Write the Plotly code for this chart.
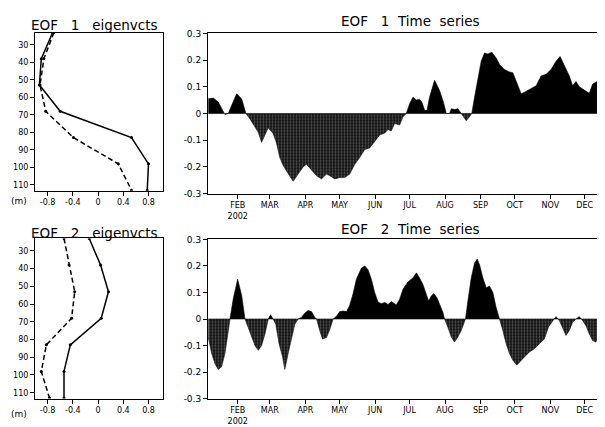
import numpy as np
import plotly.graph_objects as go

# ---------------- data ----------------
depth = [23, 38, 53, 68, 83, 98, 113]
eof1_solid = [-0.72, -0.90, -0.93, -0.60, 0.53, 0.80, 0.78]
eof1_dash = [-0.70, -0.86, -0.92, -0.83, -0.39, 0.32, 0.53]
eof2_solid = [-0.14, 0.04, 0.165, 0.05, -0.44, -0.54, -0.54]
eof2_dash = [-0.54, -0.46, -0.37, -0.42, -0.82, -0.90, -0.77]

ts1_day = [20.3, 24.6, 29.0, 31.9, 34.8, 37.7, 40.6, 45.0, 49.4, 53.1, 56.6, 61.0, 63.9, 66.8,
           69.7, 72.6, 76.9, 79.8, 82.7, 85.7, 90.0, 94.4, 98.7, 103.1, 106.0, 110.4, 114.8,
           119.1, 123.5, 126.4, 130.7, 135.1, 139.4, 143.8, 148.2, 152.5, 156.9, 161.2, 165.6,
           170.0, 174.4, 177.2, 180.1, 183.0, 187.4, 190.3, 193.2, 196.1, 199.0, 202.0, 204.8,
           206.8, 209.2, 211.3, 213.5, 217.9, 222.3, 226.0, 228.1, 231.0, 232.5, 235.3, 238.2,
           241.2, 244.1, 245.5, 248.4, 250.4, 252.8, 255.7, 258.6, 261.5, 264.4, 267.9, 271.7,
           274.6, 278.9, 283.3, 286.2, 289.1, 293.5, 296.4, 299.3, 302.2, 306.6, 310.9, 315.3,
           319.6, 324.0, 327.5, 331.2, 335.6, 338.5, 341.4, 344.3, 348.7, 353.0, 355.9, 360.3,
           364.6]
ts1_val = [0.055, 0.058, 0.043, 0.018, -0.004, 0.0, 0.03, 0.074, 0.055, 0.0, -0.02, -0.05, -0.07,
           -0.108, -0.08, -0.053, -0.075, -0.11, -0.165, -0.195, -0.225, -0.254, -0.227, -0.2,
           -0.19, -0.21, -0.233, -0.245, -0.227, -0.233, -0.245, -0.24, -0.24, -0.227, -0.19,
           -0.165, -0.135, -0.129, -0.104, -0.08, -0.073, -0.06, -0.065, -0.037, -0.043, -0.012,
           0.0, 0.037, 0.061, 0.051, 0.053, 0.043, 0.012, 0.012, 0.061, 0.125, 0.086, 0.037, 0.0,
           0.0, 0.018, 0.015, 0.018, 0.0, -0.018, -0.027, -0.012, 0.0, 0.061, 0.135, 0.196, 0.227,
           0.223, 0.23, 0.208, 0.184, 0.165, 0.156, 0.153, 0.122, 0.074, 0.08, 0.086, 0.092,
           0.104, 0.141, 0.147, 0.165, 0.196, 0.214, 0.178, 0.141, 0.104, 0.12, 0.1, 0.088,
           0.076, 0.11, 0.122, 0.141]

ts2_day = [20.3, 23.2, 26.2, 29.0, 31.9, 34.8, 37.7, 39.2, 42.1, 45.9, 49.4, 52.3, 55.2, 58.1,
           61.0, 63.9, 66.8, 69.7, 72.6, 74.6, 76.9, 79.2, 82.1, 85.1, 87.1, 90.0, 92.9, 95.8,
           98.7, 101.6, 104.5, 107.4, 110.4, 113.3, 114.8, 117.7, 120.0, 123.5, 126.4, 129.3,
           132.2, 135.1, 138.0, 141.0, 143.8, 146.7, 149.6, 154.0, 156.9, 159.8, 162.7, 165.6,
           168.5, 171.4, 174.4, 177.3, 180.1, 184.4, 187.4, 190.3, 194.6, 199.0, 202.0, 204.8,
           207.7, 210.6, 212.7, 215.0, 217.3, 220.2, 223.1, 225.2, 226.6, 229.5, 232.5, 235.3,
           238.2, 241.2, 244.1, 244.9, 247.0, 249.9, 252.8, 255.1, 257.2, 260.1, 263.0, 265.9,
           268.8, 271.7, 274.6, 277.5, 280.4, 283.3, 286.2, 289.7, 293.5, 296.4, 300.8, 305.1,
           309.5, 313.8, 317.3, 321.1, 324.0, 326.9, 329.8, 332.7, 335.6, 338.5, 341.4, 344.3,
           347.2, 350.1, 353.0, 355.9, 358.8, 361.8, 364.6]
ts2_val = [-0.07, -0.13, -0.17, -0.19, -0.18, -0.13, -0.045, 0.0, 0.077, 0.15, 0.089, 0.0,
           -0.033, -0.07, -0.1, -0.118, -0.1, -0.057, 0.0, 0.016, 0.0, -0.02, -0.094, -0.142,
           -0.19, -0.13, -0.07, -0.02, 0.0, 0.006, 0.022, 0.032, 0.028, 0.006, 0.0, -0.045,
           -0.075, -0.07, -0.039, 0.0, 0.01, 0.028, 0.03, 0.028, 0.052, 0.095, 0.15, 0.192, 0.2,
           0.186, 0.15, 0.1, 0.064, 0.058, 0.062, 0.055, 0.066, 0.053, 0.075, 0.112, 0.14, 0.155,
           0.174, 0.155, 0.13, 0.096, 0.068, 0.087, 0.096, 0.078, 0.05, 0.025, 0.0, -0.031,
           -0.068, -0.087, -0.068, -0.043, -0.006, 0.0, 0.068, 0.155, 0.211, 0.226, 0.205, 0.155,
           0.118, 0.124, 0.1, 0.043, 0.0, -0.043, -0.093, -0.13, -0.155, -0.174, -0.155, -0.143,
           -0.124, -0.112, -0.093, -0.075, -0.031, -0.006, 0.009, -0.006, -0.037, -0.062,
           -0.043, -0.012, 0.0, 0.009, -0.006, -0.025, -0.056, -0.081, -0.087, -0.062, -0.031]

month_ticks = [46, 74, 105, 135, 166, 196, 227, 258, 288, 319, 349]
month_labels = ["FEB<br>2002", "MAR", "APR", "MAY", "JUN", "JUL", "AUG", "SEP", "OCT", "NOV", "DEC"]
depth_ticks = [30, 40, 50, 60, 70, 80, 90, 100, 110]
eig_ticks = [-0.8, -0.4, 0, 0.4, 0.8]
eig_labels = ["-0.8", "-0.4", "0", "0.4", "0.8"]
ts_ticks = [-0.3, -0.2, -0.1, 0, 0.1, 0.2, 0.3]
ts_labels = ["-0.3", "-0.2", "-0.1", "0", "0.1", "0.2", "0.3"]

FONT = "DejaVu Sans"
# the page body has an 8px default margin; the figure is placed inside it
OX, OY = 8, 8
W, H = 605 - OX, 427 - OY


def fx(px):
    return (px - OX) / W


def fy(py):
    return 1 - (py - OY) / H


def split(days, vals):
    x, y = [], []
    for i in range(len(days)):
        if i > 0 and vals[i - 1] * vals[i] < 0:
            t = vals[i - 1] / (vals[i - 1] - vals[i])
            x.append(days[i - 1] + t * (days[i] - days[i - 1]))
            y.append(0.0)
        x.append(days[i])
        y.append(vals[i])
    y = np.array(y)
    return np.array(x), np.maximum(y, 0), np.minimum(y, 0)


fig = go.Figure()

for (sol, das, ax) in [(eof1_solid, eof1_dash, ""), (eof2_solid, eof2_dash, "3")]:
    fig.add_trace(go.Scatter(x=sol, y=depth, mode="lines+markers",
                             line=dict(color="black", width=1.5),
                             marker=dict(size=3, color="black"),
                             xaxis="x" + ax, yaxis="y" + ax, showlegend=False))
    fig.add_trace(go.Scatter(x=das, y=depth, mode="lines+markers",
                             line=dict(color="black", width=1.5, dash="5px,3px"),
                             marker=dict(size=3, color="black"),
                             xaxis="x" + ax, yaxis="y" + ax, showlegend=False))

for (d, v, ax) in [(ts1_day, ts1_val, "2"), (ts2_day, ts2_val, "4")]:
    xs, pos, neg = split(d, v)
    fig.add_trace(go.Scatter(x=xs, y=neg, mode="lines", fill="tozeroy",
                             fillcolor="#2a2a2a",
                             fillpattern=dict(shape=".", fgcolor="#9c9c9c", bgcolor="#141414",
                                              size=3, solidity=0.3),
                             line=dict(color="#111111", width=0.6),
                             xaxis="x" + ax, yaxis="y" + ax, showlegend=False))
    fig.add_trace(go.Scatter(x=xs, y=pos, mode="lines", fill="tozeroy",
                             fillcolor="black", line=dict(color="black", width=0.6),
                             xaxis="x" + ax, yaxis="y" + ax, showlegend=False))

common = dict(showline=True, mirror=True, linecolor="black", linewidth=1, showgrid=False,
              zeroline=False, ticks="outside", ticklen=4, tickcolor="black",
              tickfont=dict(family=FONT, size=8, color="black"))

eig_x = dict(common, range=[-1.0, 1.03], tickmode="array", tickvals=eig_ticks,
             ticktext=eig_labels, domain=[fx(35), fx(163)])
eig_y = dict(common, range=[113.3, 23.0], tickmode="array", tickvals=depth_ticks)
ts_x = dict(common, range=[20, 365], tickmode="array", tickvals=month_ticks,
            ticktext=month_labels, domain=[fx(208), fx(603)])
ts_y = dict(common, range=[-0.3, 0.3], tickmode="array", tickvals=ts_ticks,
            ticktext=ts_labels)
ts_y["tickfont"] = dict(family=FONT, size=9, color="black")

fig.update_layout(
    width=W, height=H, margin=dict(l=0, r=0, t=0, b=0), autosize=False,
    paper_bgcolor="white", plot_bgcolor="white",
    xaxis=dict(eig_x, anchor="y"),
    yaxis=dict(eig_y, anchor="x", domain=[fy(190), fy(28)]),
    xaxis2=dict(ts_x, anchor="y2"),
    yaxis2=dict(ts_y, anchor="x2", domain=[fy(193), fy(29)]),
    xaxis3=dict(eig_x, anchor="y3"),
    yaxis3=dict(eig_y, anchor="x3", domain=[fy(403), fy(239)]),
    xaxis4=dict(ts_x, anchor="y4"),
    yaxis4=dict(ts_y, anchor="x4", domain=[fy(403), fy(240)]),
)

nb = "\u00a0"
titles = [
    ("EOF" + nb * 3 + "1" + nb * 3 + "eigenvcts", 94, 20),
    ("EOF" + nb * 3 + "1" + nb * 2 + "Time" + nb * 2 + "series", 410, 16),
    ("EOF" + nb * 3 + "2" + nb * 3 + "eigenvcts", 94, 233),
    ("EOF" + nb * 3 + "2" + nb * 2 + "Time" + nb * 2 + "series", 410, 229),
]
for txt, px, py in titles:
    fig.add_annotation(text=txt, x=fx(px), y=fy(py), xref="paper", yref="paper",
                       showarrow=False, xanchor="center", yanchor="middle",
                       font=dict(family=FONT, size=13.5, color="black"))
for py in (201, 419):
    fig.add_annotation(text="(m)", x=fx(9), y=fy(py), xref="paper", yref="paper",
                       showarrow=False, xanchor="left", yanchor="middle",
                       font=dict(family=FONT, size=9, color="black"))

fig.write_html("out.html")
